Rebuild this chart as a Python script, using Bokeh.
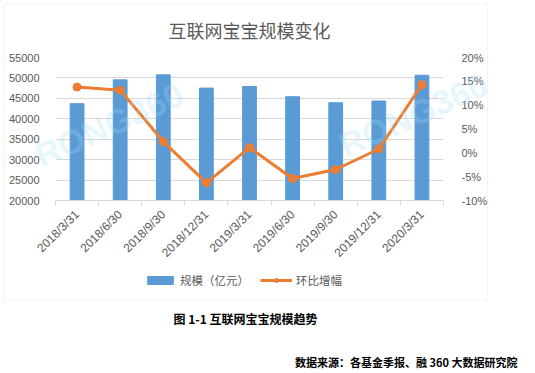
import math
from bokeh.plotting import figure
from bokeh.models import (Range1d, LinearAxis, FixedTicker, SingleIntervalTicker,
                          PrintfTickFormatter, BasicTickFormatter, Label, Legend,
                          LegendItem, ColumnDataSource, BoxAnnotation)
from bokeh.embed import file_html
from bokeh.resources import INLINE

# ---------------- data ----------------
categories = ["2018/3/31", "2018/6/30", "2018/9/30", "2018/12/31", "2019/3/31",
              "2019/6/30", "2019/9/30", "2019/12/31", "2020/3/31"]
scale = [43700, 49530, 50750, 47510, 47900, 45400, 43940, 44350, 50670]   # 亿元
growth = [13.8, 13.15, 2.36, -6.3, 1.1, -5.4, -3.5, 0.8, 14.3]            # %
title_text = "互联网宝宝规模变化"
series_names = ["规模（亿元）", "环比增幅"]
caption_text = "图 1-1 互联网宝宝规模趋势"
source_text = "数据来源：各基金季报、融 360 大数据研究院"
watermark_text = "RONG360"

n = len(categories)
xs = list(range(n))
src = ColumnDataSource(dict(x=xs, scale=scale, growth=growth))

CJK = "Noto Sans CJK SC"
GREY = "#595959"
BLUE = "#5B9BD5"
ORANGE = "#ED7D31"

# ================= main chart =================
p = figure(frame_width=388, frame_height=143, output_backend="svg", toolbar_location=None,
           x_range=Range1d(-0.5, n - 0.5), y_range=Range1d(20000, 55000),
           min_border_left=55, min_border_right=87, min_border_top=56,
           min_border_bottom=0)
p.outline_line_color = None
p.background_fill_color = "white"
p.border_fill_color = "white"

p.title.text = title_text
p.title.align = "center"
p.title.offset = -4
p.title.text_font = CJK
p.title.text_font_size = "18px"
p.title.text_font_style = "normal"
p.title.text_color = GREY
p.title.standoff = 29

# left axis
p.yaxis.ticker = SingleIntervalTicker(interval=5000)
p.yaxis.formatter = BasicTickFormatter(use_scientific=False)
p.yaxis.axis_line_color = None
p.yaxis.major_tick_line_color = None
p.yaxis.minor_tick_line_color = None
p.yaxis.major_label_standoff = 10
p.yaxis.major_label_text_font = "Liberation Sans"
p.yaxis.major_label_text_font_size = "11px"
p.yaxis.major_label_text_color = GREY

p.ygrid.ticker = SingleIntervalTicker(interval=5000)
p.ygrid.grid_line_color = "#d9d9d9"
p.xgrid.grid_line_color = None

# bottom axis (ticks between categories)
p.xaxis.ticker = FixedTicker(ticks=xs, minor_ticks=[i - 0.5 for i in range(n + 1)])
p.xaxis.major_label_overrides = {i: c for i, c in enumerate(categories)}
p.xaxis.major_label_orientation = math.pi / 4
p.xaxis.axis_line_color = "#d9d9d9"
p.xaxis.major_tick_line_color = None
p.xaxis.minor_tick_line_color = "#d9d9d9"
p.xaxis.minor_tick_out = 5
p.xaxis.minor_tick_in = 0
p.xaxis.major_label_standoff = 6
p.xaxis.major_label_text_font = "Liberation Sans"
p.xaxis.major_label_text_font_size = "12px"
p.xaxis.major_label_text_color = GREY

# right axis
p.extra_y_ranges = {"pct": Range1d(-10, 20)}
ax2 = LinearAxis(y_range_name="pct", ticker=SingleIntervalTicker(interval=5),
                 formatter=PrintfTickFormatter(format="%d%%"))
ax2.axis_line_color = None
ax2.major_tick_line_color = None
ax2.minor_tick_line_color = None
ax2.major_label_standoff = 12
ax2.major_label_text_font = "Liberation Sans"
ax2.major_label_text_font_size = "11px"
ax2.major_label_text_color = GREY
p.add_layout(ax2, "right")

bars = p.vbar(x="x", top="scale", bottom=0, width=0.32, source=src,
              fill_color=BLUE, line_color=BLUE)
ln = p.line(x="x", y="growth", source=src, y_range_name="pct",
            line_color=ORANGE, line_width=3)
pts = p.scatter(x="x", y="growth", source=src, y_range_name="pct", size=8,
                fill_color=ORANGE, line_color=ORANGE)

# ================= overlay: frame box, legend, captions, watermark =================
c = figure(width=530, height=370, output_backend="svg", toolbar_location=None,
           x_range=Range1d(0, 530), y_range=Range1d(370, 0),
           x_axis_type=None, y_axis_type=None,
           min_border=0, min_border_left=0, min_border_right=0,
           min_border_top=0, min_border_bottom=0,
           styles={"position": "absolute", "left": "0px", "top": "0px"})
c.outline_line_color = None
c.grid.visible = False
c.background_fill_alpha = 0
c.border_fill_alpha = 0

for wx, wy in [(44, 174), (348, 164)]:
    c.add_layout(Label(x=wx, y=wy, text=watermark_text, angle=0.42,
                       text_font="Liberation Sans", text_font_size="34px",
                       text_font_style="bold", text_color="#9fdcf6", text_alpha=0.25))

c.add_layout(BoxAnnotation(left=3, right=487, top=3, bottom=300, fill_alpha=0,
                           line_color="#d9d9d9", line_width=1))

# legend proxies (one point each, placed outside the visible range)
proxy = ColumnDataSource(dict(x=[-100], y=[-100]))
lg_bar = c.vbar(x="x", top="y", width=1, source=proxy, fill_color=BLUE, line_color=BLUE)
lg_line = c.line(x="x", y="y", source=proxy, line_color=ORANGE, line_width=3)
lg_pt = c.scatter(x="x", y="y", source=proxy, size=8, fill_color=ORANGE, line_color=ORANGE)
legend = Legend(items=[LegendItem(label=series_names[0], renderers=[lg_bar]),
                       LegendItem(label=series_names[1], renderers=[lg_line, lg_pt])],
                location=(144, 82), orientation="horizontal",
                glyph_width=32, glyph_height=10, label_height=14,
                label_standoff=4, spacing=11, padding=0, margin=0,
                border_line_color=None, background_fill_alpha=0,
                label_text_font=CJK, label_text_font_size="11.5px",
                label_text_color=GREY)
c.add_layout(legend)

c.add_layout(Label(x=245, y=318, text=caption_text, text_align="center",
                   text_baseline="middle", text_font=CJK, text_font_size="12px",
                   text_font_style="bold", text_color="black"))
c.add_layout(Label(x=517, y=361, text=source_text, text_align="right",
                   text_baseline="middle", text_font=CJK, text_font_size="11px",
                   text_font_style="bold", text_color="black"))

open("out.html", "w").write(file_html([p, c], INLINE))
